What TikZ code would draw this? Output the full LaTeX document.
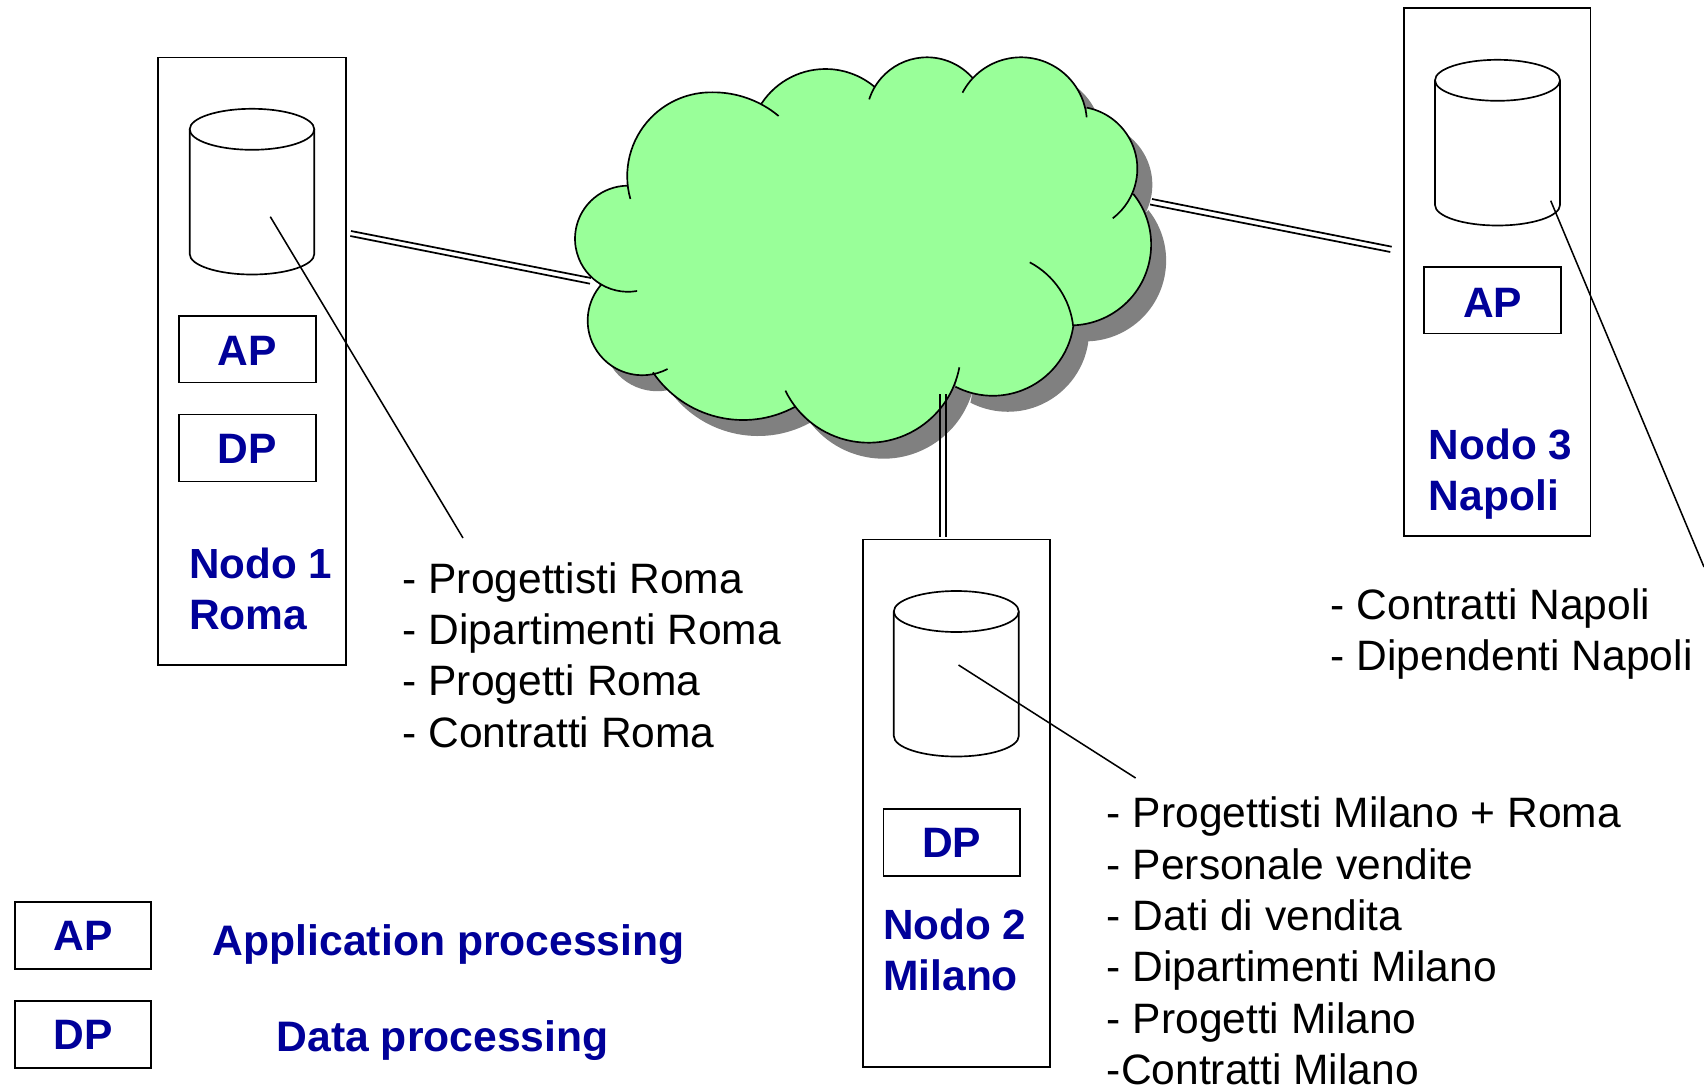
\documentclass[tikz,border=0pt]{standalone}
\usepackage{fontspec}
\setmainfont{Liberation Sans}
\definecolor{nodeblue}{HTML}{000099}
\definecolor{cloudgreen}{HTML}{99FF99}
\definecolor{shadowgray}{HTML}{808080}
\tikzset{
  pxsize/.style 2 args={minimum width=#1*0.75pt,minimum height=#2*0.75pt},
  framebox/.style={draw=black,line width=1.25pt,inner sep=0pt,outer sep=0pt},
  tagbox/.style={framebox,text=nodeblue,font=\fontsize{31.9}{38.5}\selectfont\bfseries},
  bluetext/.style={text=nodeblue,inner sep=0pt,align=left,font=\fontsize{31.9}{38.5}\selectfont\bfseries},
  listtext/.style={text=black,inner sep=0pt,align=left,anchor=north west,font=\fontsize{31.9}{38.55}\selectfont},
  wire/.style={line width=1.3pt,black},
  leader/.style={line width=1.15pt,black},
  cloudline/.style={line width=1.25pt,black}
}
\gdef\cloudfill{(800,-250)}
\gdef\cloudlines{}
\newcommand\addlobe[6]{%
  \pgfmathsetmacro\lax{560+0.3954*#1}%
  \pgfmathsetmacro\lay{-(40+#2/3)}%
  \pgfmathsetmacro\lbx{0.3954*(#3-#1)/100}%
  \pgfmathsetmacro\lby{-(#4-#2)/300}%
  \pgfmathsetmacro\lcx{0.3954*(#5-#1)/100}%
  \pgfmathsetmacro\lcy{-(#6-#2)/300}%
  \pgfmathsetmacro\lD{2*(\lbx*\lcy-\lby*\lcx)}%
  \pgfmathsetmacro\lbb{\lbx*\lbx+\lby*\lby}%
  \pgfmathsetmacro\lcc{\lcx*\lcx+\lcy*\lcy}%
  \pgfmathsetmacro\lux{(\lcy*\lbb-\lby*\lcc)/\lD}%
  \pgfmathsetmacro\luy{(\lbx*\lcc-\lcx*\lbb)/\lD}%
  \pgfmathsetmacro\lr{100*sqrt(\lux*\lux+\luy*\luy)}%
  \pgfmathsetmacro\ls{atan2(-\luy,-\lux)}%
  \pgfmathsetmacro\le{atan2(\lcy-\luy,\lcx-\lux)}%
  \pgfmathsetmacro\le{\le>\ls ? \le-360 : \le}%
  \xdef\cloudfill{\cloudfill -- (\lax,\lay) arc[start angle=\ls,end angle=\le,radius=\lr]}%
  \xdef\cloudlines{\cloudlines (\lax,\lay) arc[start angle=\ls,end angle=\le,radius=\lr]}%
}
% cylinder: left, right, y of top ellipse centre, y of lower side
\newcommand\drum[4]{%
  \pgfmathsetmacro\dcx{(#1+#2)/2}%
  \pgfmathsetmacro\drx{(#2-#1)/2}%
  \draw[line width=1.25pt] (#1,-#3) -- (#1,-#4) arc[start angle=180,end angle=360,x radius=\drx,y radius=20.5] -- (#2,-#3);
  \draw[line width=1.25pt] (\dcx,-#3) ellipse[x radius=\drx,y radius=20.5];
}
\begin{document}
\begin{tikzpicture}[x=0.75pt,y=0.75pt]
\useasboundingbox (0,0) rectangle (1704,-1088);
% cloud
\addlobe{195}{753}{38}{590}{170}{437}
\addlobe{178}{477}{205}{270}{385}{157}
\addlobe{385}{157}{475}{175}{553}{228}
\addlobe{510}{190}{670}{87}{795}{140}
\addlobe{782}{178}{925}{52}{1042}{112}
\addlobe{1018}{158}{1170}{52}{1332}{232}
\addlobe{1332}{203}{1460}{380}{1398}{535}
\addlobe{1450}{462}{1495}{610}{1298}{856}
\addlobe{1188}{667}{1265}{750}{1298}{860}
\addlobe{1298}{860}{1105}{1067}{1000}{1040}
\addlobe{1010}{982}{785}{1208}{570}{1052}
\addlobe{595}{1100}{460}{1140}{235}{997}
\addlobe{272}{987}{70}{840}{105}{733}
\fill[shadowgray,shift={(15,-16)}] \cloudfill -- cycle;
\fill[cloudgreen] \cloudfill -- cycle;
\draw[cloudline] \cloudlines;
% node frames
\node[framebox,pxsize={187.4}{607.7}] (frameRoma) at (252,-361.2) {};
\node[framebox,pxsize={186.7}{527.7}] (frameNapoli) at (1497.3,-271.9) {};
\node[framebox,pxsize={187}{527.5}] (frameMilano) at (956.3,-803.3) {};
% cylinders
\drum{189.7}{314.3}{129.3}{254}
\drum{1435}{1560}{80.3}{205}
\drum{893.8}{1018.8}{611.5}{736}
% tag boxes
\node[framebox,pxsize={136.4}{66.8}] (apRoma) at (247.5,-349.1) {};
\node[framebox,pxsize={136.4}{66.8}] (dpRoma) at (247.5,-448) {};
\node[framebox,pxsize={136.7}{66.9}] (apNapoli) at (1492.6,-300.2) {};
\node[framebox,pxsize={136.5}{67}] (dpMilano) at (951.7,-842.5) {};
\node[framebox,pxsize={136.3}{67}] (apLegend) at (82.9,-935.5) {};
\node[framebox,pxsize={136.3}{67}] (dpLegend) at (82.9,-1034.5) {};
\node[bluetext] (apRomaText) at (247.5,-351.2) {AP};
\node[bluetext] (dpRomaText) at (247.5,-449) {DP};
\node[bluetext] (apNapoliText) at (1492.6,-302.4) {AP};
\node[bluetext] (dpMilanoText) at (951.7,-842.5) {DP};
\node[bluetext] (apLegendText) at (82.9,-935.5) {AP};
\node[bluetext] (dpLegendText) at (82.9,-1034.5) {DP};
% node names
\node[bluetext,anchor=north west] (nameRoma) at (189,-547.4) {\fontsize{31.6}{38.5}\selectfont Nodo 1\\Roma};
\node[bluetext,anchor=north west] (nameNapoli) at (1428.6,-428.4) {\fontsize{31.7}{38.5}\selectfont Nodo 3\\Napoli};
\node[bluetext,anchor=north west] (nameMilano) at (883,-908.4) {\fontsize{31.7}{38.5}\selectfont Nodo 2\\Milano};
% legend text
\node[bluetext,anchor=west] (legendAP) at (212.6,-945) {\fontsize{32}{38.5}\selectfont Application processing};
\node[bluetext,anchor=west] (legendDP) at (276.4,-1041) {\fontsize{32}{38.5}\selectfont Data processing};
% lists
\node[listtext] (listRoma) at (402.4,-562) {- Progettisti Roma\\- Dipartimenti Roma\\- Progetti Roma\\- Contratti Roma};
\node[listtext] (listNapoli) at (1330.6,-588.4) {- Contratti Napoli\\- Dipendenti Napoli};
\node[listtext] (listMilano) at (1106.6,-796.6) {- Progettisti Milano + Roma\\- Personale vendite\\- Dati di vendita\\- Dipartimenti Milano\\- Progetti Milano\\-Contratti Milano};
% connector ends
\coordinate (leadRomaA) at (270.3,-216.7);
\coordinate (leadRomaB) at (463,-538);
\coordinate (leadNapoliA) at (1550.7,-200.7);
\coordinate (leadNapoliB) at (1704,-567);
\coordinate (leadMilanoA) at (958.5,-665);
\coordinate (leadMilanoB) at (1135.6,-778);
\coordinate (wireRa) at (351,-231);
\coordinate (wireRb) at (591,-278);
\coordinate (wireRc) at (350.3,-236);
\coordinate (wireRd) at (590,-283.7);
\coordinate (wireNa) at (1152,-199);
\coordinate (wireNb) at (1391.7,-246.7);
\coordinate (wireNc) at (1150,-204.5);
\coordinate (wireNd) at (1390.3,-252);
\coordinate (wireMa) at (940,-394);
\coordinate (wireMb) at (940,-537);
\coordinate (wireMc) at (946,-394);
\coordinate (wireMd) at (946,-537);
% leaders
\draw[leader] (leadRomaA) -- (leadRomaB);
\draw[leader] (leadNapoliA) -- (leadNapoliB);
\draw[leader] (leadMilanoA) -- (leadMilanoB);
% double wires
\draw[wire] (wireRa) -- (wireRb);
\draw[wire] (wireRc) -- (wireRd);
\draw[wire] (wireNa) -- (wireNb);
\draw[wire] (wireNc) -- (wireNd);
\draw[wire] (wireMa) -- (wireMb);
\draw[wire] (wireMc) -- (wireMd);
\end{tikzpicture}
\end{document}
